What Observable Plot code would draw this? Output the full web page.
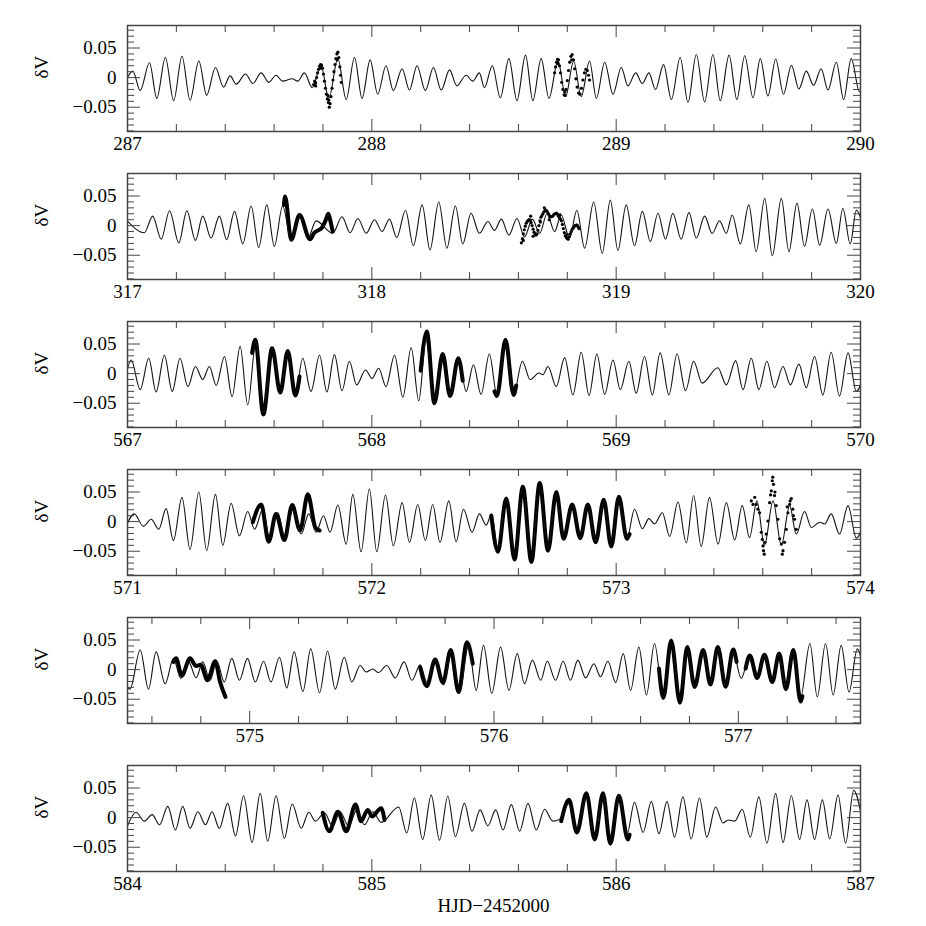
<!DOCTYPE html>
<html><head><meta charset="utf-8">
<script src="https://cdn.jsdelivr.net/npm/d3@7"></script>
<script src="https://cdn.jsdelivr.net/npm/@observablehq/plot@0.6"></script>
<style>
html,body{margin:0;padding:0;background:#fff;}
#chart{position:relative;width:926px;height:926px;background:#fff;font-family:"Liberation Serif",serif;overflow:hidden;}
#chart svg{position:absolute;left:0;}
#xlabel{position:absolute;left:127px;width:733px;text-align:center;top:895px;font-size:19px;color:#000;}
</style></head><body><div id="chart"><div id="xlabel"></div></div>
<script>
// ---------- axis definitions ----------
const xDomains = [[287,290],[317,320],[567,570],[571,574],[574.5,577.5],[584,587]];
const xTickLabels = [[287,288,289,290],[317,318,319,320],[567,568,569,570],[571,572,573,574],[575,576,577],[584,585,586,587]];
const yDomain = [-0.091, 0.088];
const yTickLabels = [-0.05, 0, 0.05];
const yLabel = "δV";
const xLabel = "HJD−2452000";

// ---------- model curve: extrema [HJD-2452000, dV] ----------
const model1 = [[286.99,-0.008],[287.022,0.011],[287.052,-0.022],[287.090,0.025],[287.120,-0.035],[287.155,0.034],[287.189,-0.039],[287.223,0.036],[287.256,-0.038],[287.292,0.028],[287.324,-0.030],[287.360,0.017],[287.393,-0.016],[287.420,0.003],[287.445,-0.011],[287.483,0.006],[287.513,-0.010],[287.547,0.008],[287.578,-0.008],[287.608,0.004],[287.635,-0.006],[287.674,-0.002],[287.697,-0.006],[287.724,0.008],[287.756,-0.017],[287.792,0.020],[287.824,-0.035],[287.861,0.032],[287.895,-0.037],[287.929,0.034],[287.960,-0.035],[287.993,0.030],[288.024,-0.028],[288.058,0.020],[288.088,-0.022],[288.124,0.015],[288.154,-0.021],[288.185,0.020],[288.219,-0.022],[288.252,0.017],[288.284,-0.021],[288.318,0.013],[288.348,-0.014],[288.386,0.004],[288.413,-0.006],[288.440,0.008],[288.461,-0.017],[288.493,0.020],[288.526,-0.034],[288.561,0.032],[288.594,-0.039],[288.629,0.038],[288.659,-0.039],[288.693,0.032],[288.725,-0.035],[288.762,0.028],[288.793,-0.032],[288.826,0.028],[288.857,-0.032],[288.891,0.028],[288.919,-0.035],[288.953,0.026],[288.987,-0.028],[289.021,0.017],[289.048,-0.014],[289.080,0.008],[289.107,-0.010],[289.134,0.008],[289.161,-0.020],[289.194,0.022],[289.226,-0.037],[289.262,0.034],[289.294,-0.042],[289.328,0.039],[289.362,-0.041],[289.396,0.039],[289.426,-0.039],[289.462,0.038],[289.494,-0.037],[289.526,0.037],[289.560,-0.034],[289.590,0.032],[289.621,-0.031],[289.653,0.031],[289.685,-0.028],[289.717,0.021],[289.748,-0.019],[289.778,0.011],[289.808,-0.013],[289.839,0.015],[289.867,-0.021],[289.901,0.026],[289.931,-0.037],[289.962,0.032],[289.996,-0.024],[290.02,0.01]];
const model2 = [[316.995,0.010],[317.069,-0.012],[317.103,0.016],[317.138,-0.023],[317.172,0.025],[317.210,-0.029],[317.243,0.025],[317.278,-0.025],[317.308,0.016],[317.342,-0.021],[317.376,0.016],[317.406,-0.024],[317.438,0.024],[317.472,-0.031],[317.506,0.033],[317.537,-0.037],[317.570,0.035],[317.601,-0.035],[317.635,0.033],[317.670,-0.025],[317.704,0.016],[317.738,-0.021],[317.772,0.008],[317.840,-0.013],[317.878,0.015],[317.911,-0.012],[317.943,0.012],[317.977,-0.013],[318.011,0.010],[318.042,-0.010],[318.072,0.011],[318.102,-0.020],[318.138,0.026],[318.170,-0.034],[318.206,0.035],[318.238,-0.041],[318.274,0.040],[318.307,-0.038],[318.342,0.033],[318.372,-0.031],[318.406,0.021],[318.440,-0.013],[318.475,0.007],[318.502,-0.008],[318.530,0.011],[318.561,-0.016],[318.594,0.012],[318.625,-0.019],[318.657,0.011],[318.687,-0.013],[318.717,0.020],[318.748,-0.010],[318.775,0.018],[318.809,-0.021],[318.839,0.026],[318.871,-0.038],[318.908,0.040],[318.943,-0.047],[318.976,0.043],[319.007,-0.042],[319.041,0.035],[319.075,-0.034],[319.107,0.024],[319.140,-0.027],[319.171,0.021],[319.202,-0.023],[319.232,0.021],[319.266,-0.023],[319.298,0.022],[319.328,-0.021],[319.362,0.016],[319.393,-0.013],[319.423,0.008],[319.451,-0.013],[319.475,0.018],[319.508,-0.031],[319.543,0.035],[319.573,-0.044],[319.608,0.046],[319.639,-0.051],[319.676,0.046],[319.707,-0.044],[319.740,0.038],[319.771,-0.035],[319.803,0.028],[319.833,-0.033],[319.867,0.028],[319.901,-0.030],[319.928,0.029],[319.958,-0.031],[319.983,0.026],[320.02,-0.02]];
const model3 = [[566.99,-0.01],[567.015,0.023],[567.052,-0.027],[567.087,0.026],[567.117,-0.031],[567.151,0.031],[567.183,-0.030],[567.215,0.026],[567.247,-0.022],[567.278,0.012],[567.308,-0.010],[567.335,0.012],[567.363,-0.020],[567.397,0.029],[567.428,-0.039],[567.461,0.046],[567.492,-0.053],[567.526,0.055],[567.556,-0.064],[567.592,0.043],[567.625,-0.031],[567.656,0.035],[567.687,-0.036],[567.717,0.026],[567.751,-0.030],[567.786,0.031],[567.816,-0.031],[567.847,0.032],[567.878,-0.029],[567.908,0.021],[567.938,-0.019],[567.974,0.006],[568.001,-0.008],[568.028,0.009],[568.058,-0.022],[568.093,0.031],[568.127,-0.040],[568.161,0.044],[568.192,-0.046],[568.222,0.057],[568.256,-0.050],[568.290,0.033],[568.320,-0.036],[568.356,0.026],[568.386,-0.030],[568.416,0.015],[568.447,-0.035],[568.481,0.033],[568.512,-0.036],[568.547,0.054],[568.580,-0.035],[568.616,0.021],[568.648,-0.010],[568.684,0.001],[568.700,-0.002],[568.721,0.012],[568.755,-0.022],[568.789,0.027],[568.823,-0.036],[568.857,0.036],[568.889,-0.037],[568.921,0.033],[568.953,-0.035],[568.987,0.023],[569.017,-0.027],[569.052,0.021],[569.082,-0.033],[569.116,0.029],[569.148,-0.036],[569.180,0.035],[569.216,-0.036],[569.249,0.033],[569.284,-0.029],[569.317,0.021],[569.352,-0.016],[569.416,0.010],[569.451,-0.019],[569.489,0.022],[569.519,-0.027],[569.553,0.026],[569.584,-0.027],[569.617,0.021],[569.648,-0.024],[569.683,0.012],[569.713,-0.019],[569.748,0.016],[569.778,-0.024],[569.812,0.029],[569.846,-0.036],[569.880,0.036],[569.914,-0.038],[569.949,0.035],[569.983,-0.030],[570.02,0.01]];
const model4 = [[570.99,-0.012],[571.028,0.013],[571.065,-0.008],[571.097,0.004],[571.128,-0.013],[571.158,0.022],[571.188,-0.032],[571.223,0.041],[571.256,-0.047],[571.292,0.050],[571.324,-0.049],[571.360,0.046],[571.390,-0.040],[571.424,0.031],[571.458,-0.024],[571.492,0.017],[571.520,-0.013],[571.554,0.021],[571.581,-0.027],[571.615,0.015],[571.646,-0.029],[571.676,0.021],[571.711,-0.021],[571.742,0.013],[571.772,-0.018],[571.802,0.010],[571.829,-0.018],[571.861,0.028],[571.895,-0.038],[571.922,0.046],[571.956,-0.051],[571.990,0.055],[572.020,-0.051],[572.056,0.045],[572.088,-0.041],[572.124,0.032],[572.154,-0.035],[572.188,0.029],[572.219,-0.032],[572.249,0.029],[572.279,-0.035],[572.315,0.035],[572.345,-0.034],[572.375,0.021],[572.410,-0.018],[572.440,0.013],[572.468,-0.006],[572.490,0.013],[572.516,-0.044],[572.550,0.038],[572.584,-0.055],[572.618,0.055],[572.653,-0.060],[572.687,0.059],[572.721,-0.046],[572.755,0.046],[572.785,-0.027],[572.820,0.029],[572.853,-0.027],[572.884,0.029],[572.916,-0.032],[572.949,0.033],[572.980,-0.038],[573.011,0.039],[573.044,-0.029],[573.075,0.021],[573.107,-0.012],[573.134,0.005],[573.157,-0.004],[573.189,0.015],[573.219,-0.025],[573.253,0.033],[573.287,-0.036],[573.317,0.044],[573.348,-0.042],[573.382,0.041],[573.417,-0.038],[573.451,0.032],[573.485,-0.031],[573.516,0.027],[573.546,-0.027],[573.576,0.035],[573.607,-0.040],[573.642,0.035],[573.676,-0.040],[573.710,0.027],[573.737,-0.021],[573.771,0.017],[573.799,-0.010],[573.833,-0.001],[573.853,-0.004],[573.880,0.013],[573.914,-0.021],[573.949,0.027],[573.983,-0.028],[574.02,0.01]];
const model5 = [[574.49,-0.025],[574.51,-0.033],[574.552,0.033],[574.586,-0.033],[574.617,0.030],[574.654,-0.024],[574.688,0.019],[574.718,-0.015],[574.750,0.013],[574.781,-0.014],[574.808,0.013],[574.838,-0.018],[574.866,0.014],[574.896,-0.021],[574.927,0.019],[574.958,-0.018],[574.991,0.019],[575.023,-0.021],[575.057,0.014],[575.087,-0.021],[575.122,0.021],[575.152,-0.031],[575.182,0.030],[575.218,-0.037],[575.250,0.035],[575.286,-0.039],[575.319,0.031],[575.350,-0.033],[575.387,0.021],[575.418,-0.021],[575.452,0.007],[575.477,-0.004],[575.504,0.001],[575.527,-0.005],[575.561,0.007],[575.596,-0.014],[575.632,0.013],[575.664,-0.018],[575.698,0.008],[575.725,-0.021],[575.759,0.019],[575.793,-0.026],[575.827,0.031],[575.859,-0.038],[575.896,0.041],[575.927,-0.035],[575.957,0.041],[575.991,-0.040],[576.027,0.038],[576.061,-0.035],[576.095,0.027],[576.125,-0.024],[576.157,0.016],[576.191,-0.018],[576.218,0.014],[576.252,-0.018],[576.283,0.014],[576.313,-0.018],[576.343,0.016],[576.375,-0.014],[576.409,0.010],[576.436,-0.012],[576.466,0.014],[576.498,-0.022],[576.529,0.027],[576.559,-0.035],[576.593,0.038],[576.624,-0.043],[576.657,0.044],[576.693,-0.048],[576.725,0.047],[576.761,-0.050],[576.791,0.035],[576.821,-0.032],[576.856,0.031],[576.886,-0.024],[576.916,0.035],[576.948,-0.028],[576.979,0.029],[577.012,-0.015],[577.043,0.019],[577.077,-0.012],[577.107,0.024],[577.139,-0.018],[577.166,0.027],[577.193,-0.029],[577.225,0.031],[577.255,-0.046],[577.293,0.044],[577.323,-0.046],[577.357,0.044],[577.388,-0.043],[577.421,0.041],[577.453,-0.038],[577.487,0.035],[577.52,-0.02]];
const model6 = [[584.0,-0.014],[584.035,0.009],[584.069,-0.006],[584.101,0.005],[584.131,-0.012],[584.165,0.019],[584.196,-0.021],[584.226,0.019],[584.256,-0.018],[584.288,0.010],[584.319,-0.012],[584.346,0.010],[584.376,-0.018],[584.410,0.024],[584.442,-0.031],[584.475,0.037],[584.510,-0.042],[584.543,0.041],[584.574,-0.040],[584.608,0.037],[584.642,-0.035],[584.674,0.023],[584.711,-0.018],[584.742,0.009],[584.769,-0.006],[584.806,0.008],[584.840,-0.015],[584.870,0.010],[584.906,-0.015],[584.938,0.013],[584.970,-0.012],[585.004,0.010],[585.038,-0.008],[585.110,0.018],[585.143,-0.026],[585.174,0.033],[585.208,-0.037],[585.243,0.038],[585.277,-0.038],[585.311,0.036],[585.342,-0.032],[585.379,0.024],[585.410,-0.023],[585.443,0.013],[585.475,-0.014],[585.507,0.013],[585.537,-0.021],[585.571,0.022],[585.605,-0.023],[585.639,0.024],[585.673,-0.021],[585.707,0.014],[585.741,-0.006],[585.768,-0.003],[585.807,0.024],[585.839,-0.023],[585.878,0.036],[585.912,-0.035],[585.946,0.038],[585.976,-0.037],[586.014,0.036],[586.044,-0.029],[586.075,0.026],[586.110,-0.025],[586.144,0.027],[586.175,-0.027],[586.208,0.027],[586.239,-0.033],[586.273,0.035],[586.307,-0.036],[586.341,0.033],[586.371,-0.033],[586.407,0.018],[586.437,-0.009],[586.458,-0.004],[586.485,-0.006],[586.516,0.014],[586.549,-0.033],[586.584,0.035],[586.617,-0.043],[586.653,0.041],[586.683,-0.042],[586.717,0.037],[586.751,-0.037],[586.781,0.030],[586.812,-0.037],[586.844,0.030],[586.874,-0.036],[586.908,0.038],[586.939,-0.043],[586.972,0.046],[587.01,-0.01]];

// ---------- observed data: dense runs (extrema) ----------
const obs2a = [[317.640,0.035],[317.645,0.049],[317.670,-0.024],[317.704,0.018],[317.747,-0.023],[317.765,-0.012],[317.780,-0.008],[317.795,-0.004],[317.810,0.008],[317.822,0.020],[317.832,0.005],[317.840,-0.010]];
const obs3a = [[567.510,0.035],[567.523,0.057],[567.556,-0.069],[567.592,0.043],[567.625,-0.032],[567.656,0.038],[567.687,-0.037],[567.704,-0.005]];
const obs3b = [[568.200,0.005],[568.225,0.071],[568.256,-0.050],[568.290,0.033],[568.320,-0.038],[568.354,0.026],[568.372,-0.012]];
const obs3c = [[568.502,-0.030],[568.512,-0.038],[568.547,0.057],[568.580,-0.036],[568.591,-0.020]];
const obs4a = [[571.513,-0.001],[571.547,0.029],[571.578,-0.034],[571.608,0.013],[571.642,-0.031],[571.674,0.028],[571.706,-0.015],[571.738,0.046],[571.769,-0.010],[571.786,-0.015]];
const obs4b = [[572.489,0.010],[572.516,-0.051],[572.550,0.039],[572.584,-0.064],[572.618,0.059],[572.653,-0.068],[572.687,0.065],[572.721,-0.049],[572.755,0.050],[572.785,-0.029],[572.820,0.029],[572.853,-0.028],[572.884,0.029],[572.916,-0.035],[572.949,0.037],[572.980,-0.042],[573.011,0.042],[573.044,-0.029],[573.055,-0.021]];
const obs5a = [[574.688,0.013],[574.699,0.019],[574.722,-0.010],[574.756,0.019],[574.781,0.006],[574.800,0.008],[574.827,-0.018],[574.859,0.014],[574.879,-0.021],[574.901,-0.046]];
const obs5b = [[575.698,0.004],[575.725,-0.028],[575.759,0.017],[575.791,-0.022],[575.823,0.033],[575.855,-0.038],[575.889,0.046],[575.913,0.010]];
const obs5c = [[576.675,0.002],[576.693,-0.048],[576.725,0.049],[576.761,-0.056],[576.791,0.038],[576.821,-0.029],[576.856,0.033],[576.886,-0.025],[576.916,0.038],[576.948,-0.029],[576.979,0.034],[576.993,0.013]];
const obs5d = [[577.030,0.002],[577.047,0.024],[577.077,-0.014],[577.107,0.025],[577.139,-0.021],[577.167,0.027],[577.195,-0.033],[577.225,0.033],[577.255,-0.054],[577.262,-0.045]];
const obs6a = [[584.799,0.008],[584.826,-0.023],[584.861,0.010],[584.895,-0.023],[584.933,0.022],[584.956,-0.006],[584.983,0.013],[585.001,0.002],[585.038,0.016],[585.052,-0.004]];
const obs6b = [[585.775,-0.006],[585.807,0.030],[585.839,-0.025],[585.878,0.041],[585.912,-0.037],[585.946,0.041],[585.976,-0.044],[586.011,0.037],[586.048,-0.037],[586.055,-0.029]];

// ---------- observed data: sparse scattered points ----------
const dots1 = [[287.762,-0.012],[287.766,-0.006],[287.770,-0.009],[287.774,0.000],[287.778,0.008],[287.782,0.014],[287.786,0.019],[287.790,0.022],[287.794,0.021],[287.798,0.016],[287.802,0.006],[287.806,-0.006],[287.810,-0.018],[287.814,-0.028],[287.818,-0.036],[287.822,-0.042],[287.826,-0.050],[287.829,-0.044],[287.833,-0.032],[287.837,-0.018],[287.841,-0.004],[287.845,0.010],[287.849,0.022],[287.853,0.032],[287.857,0.040],[287.861,0.043],[287.865,0.034],[287.869,0.018],[287.872,0.004],[287.875,-0.008],[287.824,-0.038],[287.820,-0.030],[287.858,0.030],[287.792,0.016],[287.770,-0.014],
 [288.748,0.008],[288.752,0.018],[288.756,0.026],[288.760,0.031],[288.764,0.030],[288.768,0.020],[288.772,0.008],[288.777,-0.008],[288.782,-0.020],[288.787,-0.029],[288.791,-0.030],[288.795,-0.020],[288.800,-0.005],[288.805,0.012],[288.810,0.026],[288.815,0.036],[288.820,0.039],[288.825,0.030],[288.830,0.015],[288.835,-0.002],[288.840,-0.016],[288.846,-0.026],[288.852,-0.028],[288.858,-0.018],[288.864,-0.004],[288.870,0.008],[288.876,0.014],[288.882,0.012],[288.887,0.004],[288.891,-0.004],[288.762,0.024],[288.818,0.030],[288.790,-0.024]];
const dots2 = [[318.612,-0.029],[318.616,-0.022],[318.620,-0.014],[318.624,-0.007],[318.628,-0.001],[318.632,0.004],[318.636,0.007],[318.640,0.009],[318.644,0.010],[318.648,0.009],[318.652,0.005],[318.656,0.000],[318.660,-0.006],[318.664,-0.011],[318.668,-0.014],[318.672,-0.016],[318.676,-0.014],[318.680,-0.008],[318.684,0.000],[318.688,0.008],[318.692,0.014],[318.696,0.017],[318.700,0.020],[318.704,0.023],[318.708,0.025],[318.712,0.026],[318.716,0.025],[318.720,0.022],[318.724,0.019],[318.728,0.016],[318.732,0.015],[318.736,0.015],[318.740,0.016],[318.744,0.018],[318.748,0.020],[318.752,0.020],[318.756,0.021],[318.760,0.019],[318.764,0.016],[318.768,0.013],[318.772,0.011],[318.776,0.008],[318.780,0.002],[318.784,-0.005],[318.788,-0.012],[318.792,-0.017],[318.796,-0.020],[318.800,-0.022],[318.804,-0.023],[318.808,-0.019],[318.812,-0.014],[318.816,-0.010],[318.820,-0.006],[318.824,-0.004],[318.828,-0.002],[318.832,0.000],[318.836,0.001],[318.840,0.001],[318.844,-0.002],[318.848,-0.005],[318.650,0.016],[318.690,0.006],[318.706,0.030],[318.726,0.010],[318.770,0.018],[318.800,-0.015],[318.660,-0.018],[318.620,-0.025]];
const dots4 = [[573.553,0.035],[573.560,0.029],[573.567,0.041],[573.573,0.029],[573.580,0.021],[573.587,0.015],[573.594,-0.018],[573.601,-0.041],[573.603,-0.049],[573.609,-0.035],[573.614,-0.021],[573.621,0.001],[573.628,0.032],[573.635,0.052],[573.639,0.069],[573.644,0.063],[573.648,0.044],[573.655,0.027],[573.662,0.004],[573.669,-0.029],[573.676,-0.038],[573.683,-0.049],[573.689,-0.035],[573.696,-0.013],[573.703,0.015],[573.710,0.029],[573.717,0.039],[573.723,0.021],[573.730,0.004],[573.737,-0.013],[573.598,-0.030],[573.606,-0.055],[573.632,0.045],[573.641,0.075],[573.680,-0.055],[573.712,0.035],[573.700,0.025],[573.725,0.010],[573.650,0.050]];

const panels = [
  {model: model1, runs: [], dots: dots1},
  {model: model2, runs: [obs2a], dots: dots2},
  {model: model3, runs: [obs3a, obs3b, obs3c], dots: []},
  {model: model4, runs: [obs4a, obs4b], dots: dots4},
  {model: model5, runs: [obs5a, obs5b, obs5c, obs5d], dots: []},
  {model: model6, runs: [obs6a, obs6b], dots: []}
];

// ---------- layout ----------
const frameTops = [25, 173, 321, 469, 617, 765];
const FH = 106, MT = 6, MB = 34, ML = 127, MR = 66, FW = 926 - ML - MR;
const ink = "#444";
const font = "Liberation Serif";
const chart = document.getElementById("chart");
document.getElementById("xlabel").textContent = xLabel;
const fmtY = d => d === 0 ? "0" : d.toFixed(2).replace("-", "−");

panels.forEach((p, i) => {
  const dom = xDomains[i];
  const majX = xTickLabels[i];
  const minX = d3.range(Math.ceil(dom[0] * 5 - 1e-9), Math.floor(dom[1] * 5 + 1e-9) + 1).map(k => k / 5).filter(v => !majX.some(m => Math.abs(m - v) < 1e-6));
  const minY = d3.range(-9, 9).map(k => k / 100).filter(v => !yTickLabels.some(m => Math.abs(m - v) < 1e-6));
  const xy = {x: d => d[0], y: d => d[1]};
  const marks = [
    ...p.runs.map(r => Plot.line(r, {...xy, curve: "monotone-x", stroke: "#000", strokeWidth: 4, clip: true})),
    Plot.dot(p.dots, {...xy, r: 1.6, fill: "#000", stroke: null, clip: true}),
    Plot.line(p.model, {...xy, curve: "monotone-x", stroke: "#111", strokeWidth: 1.1, clip: true}),
    // inward ticks
    Plot.tickX(majX, {x: d => d, insetTop: FH - 12, stroke: ink}),
    Plot.tickX(majX, {x: d => d, insetBottom: FH - 12, stroke: ink}),
    Plot.tickX(minX, {x: d => d, insetTop: FH - 7, stroke: ink}),
    Plot.tickX(minX, {x: d => d, insetBottom: FH - 7, stroke: ink}),
    Plot.tickY(yTickLabels, {y: d => d, insetRight: FW - 13, stroke: ink}),
    Plot.tickY(yTickLabels, {y: d => d, insetLeft: FW - 13, stroke: ink}),
    Plot.tickY(minY, {y: d => d, insetRight: FW - 7, stroke: ink}),
    Plot.tickY(minY, {y: d => d, insetLeft: FW - 7, stroke: ink}),
    Plot.frame({stroke: ink, strokeWidth: 1.5}),
    Plot.axisX({ticks: majX, tickSize: 0, tickPadding: 5, tickFormat: d => String(d), fontSize: 19, label: null}),
    Plot.axisY({ticks: yTickLabels, tickSize: 0, tickPadding: 11, tickFormat: fmtY, fontSize: 19, label: null}),
    Plot.text([yLabel], {text: d => d, frameAnchor: "left", dx: -86, rotate: -90, fontSize: 19, fill: "#000"})
  ];
  const svg = Plot.plot({
    width: 926, height: MT + FH + MB,
    marginTop: MT, marginBottom: MB, marginLeft: ML, marginRight: MR,
    x: {domain: dom, axis: null},
    y: {domain: yDomain, axis: null},
    style: {fontFamily: font, fontSize: "19px", background: "transparent", color: "#000", overflow: "visible"},
    marks
  });
  svg.style.top = (frameTops[i] - MT) + "px";
  chart.appendChild(svg);
});
</script></body></html>
